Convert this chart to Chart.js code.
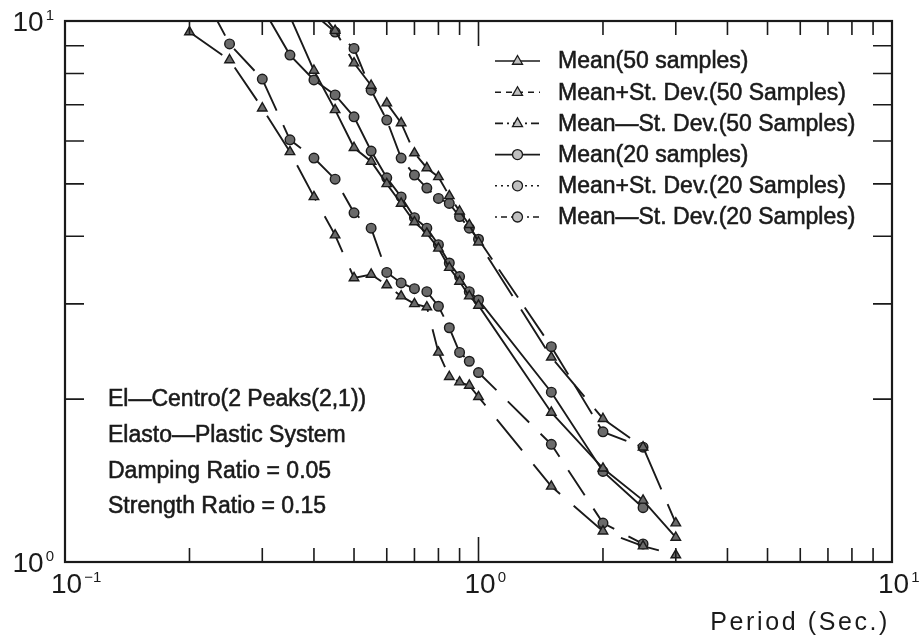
<!DOCTYPE html>
<html>
<head>
<meta charset="utf-8">
<script src="https://cdn.jsdelivr.net/npm/chart.js@4.4.1/dist/chart.umd.min.js"></script>
<style>
  html, body { margin: 0; padding: 0; background: #ffffff; }
  #wrap { width: 919px; height: 638px; }
  canvas { display: block; }
</style>
</head>
<body>
<div id="wrap"><canvas id="c" width="919" height="638"></canvas></div>
<script>
// ---- data ----
const periods    = [0.2, 0.25, 0.3, 0.35, 0.4, 0.45, 0.5, 0.55, 0.6, 0.65, 0.7, 0.75, 0.8, 0.85, 0.9, 0.95, 1.0, 1.5, 2.0, 2.5, 3.0];
const mean50     = [null, null, null, 10.2, 8.1, 6.85, 5.83, 5.5, 5.0, 4.6, 4.25, 4.05, 3.8, 3.5, 3.3, 3.1, 2.98, 1.89, 1.49, 1.3, 1.11];
const plusSD50   = [null, null, null, null, 10.8, 9.6, 8.36, 7.6, 7.05, 6.48, 5.7, 5.35, 5.15, 4.75, 4.45, 4.2, 3.9, 2.39, 1.84, 1.63, 1.18];
const minusSD50  = [9.54, 8.47, 6.9, 5.73, 4.73, 4.02, 3.35, 3.4, 3.25, 3.1, 3.0, 2.96, 2.44, 2.2, 2.15, 2.12, 2.02, 1.38, 1.14, 1.07, 1.03];
const mean20     = [null, null, 10.6, 8.65, 7.78, 7.3, 6.65, 5.75, 5.13, 4.73, 4.33, 4.14, 3.86, 3.57, 3.37, 3.16, 3.05, 2.06, 1.47, 1.26, null];
const plusSD20   = [null, null, null, null, 10.3, 9.54, 8.9, 7.45, 6.56, 5.58, 5.19, 4.91, 4.7, 4.6, 4.35, 4.14, 3.95, 2.5, 1.74, 1.63, null];
const minusSD20  = [12.5, 9.07, 7.81, 6.03, 5.58, 5.1, 4.42, 4.14, 3.43, 3.28, 3.2, 3.16, 2.97, 2.71, 2.44, 2.35, 2.24, 1.65, 1.18, 1.08, null];

const seriesNames = [
  'Mean(50 samples)',
  'Mean+St. Dev.(50 Samples)',
  'Mean\u2014St. Dev.(50 Samples)',
  'Mean(20 samples)',
  'Mean+St. Dev.(20 Samples)',
  'Mean\u2014St. Dev.(20 Samples)'
];
const xTickValues = [0.1, 1, 10];
const xTickBase   = ['10', '10', '10'];
const xTickExp    = ['\u22121', '0', '1'];
const yTickValues = [1, 10];
const yTickBase   = ['10', '10'];
const yTickExp    = ['0', '1'];
const xMinorTicks = [0.2, 0.3, 0.4, 0.5, 0.6, 0.7, 0.8, 0.9, 2, 3, 4, 5, 6, 7, 8, 9];
const xMajorTicks = [1];
const yMinorTicks = [2, 3, 4, 5, 6, 7, 8, 9];
const xTitle = 'Period (Sec.)';
const noteLines = [
  'El\u2014Centro(2 Peaks(2,1))',
  'Elasto\u2014Plastic System',
  'Damping Ratio = 0.05',
  'Strength Ratio = 0.15'
];

// ---- styles ----
const FONT = '"Liberation Sans", Arial, sans-serif';
const INK = '#1a1a1a';
const FILL = '#6a6a6a';
const seriesData  = [mean50, plusSD50, minusSD50, mean20, plusSD20, minusSD20];
const seriesShape = ['triangle', 'triangle', 'triangle', 'circle', 'circle', 'circle'];
const plotDash    = [[], [46, 16], [40, 18], [], [34, 12], [30, 16]];
const legendDash  = [[], [6, 5], [8, 4, 2, 4], [], [2, 4], [2, 4, 6, 4]];

const datasets = seriesData.map((arr, k) => ({
  label: seriesNames[k],
  data: periods.map((p, i) => ({ x: p, y: arr[i] })),
  borderColor: INK,
  borderWidth: 1.9,
  borderDash: plotDash[k],
  backgroundColor: FILL,
  pointStyle: seriesShape[k],
  pointRadius: seriesShape[k] === 'triangle' ? 5.5 : 4.8,
  pointBorderColor: INK,
  pointBorderWidth: 1.4,
  pointBackgroundColor: FILL,
  fill: false,
  tension: 0,
  spanGaps: false
}));

function drawMarker(ctx, shape, x, y, r) {
  ctx.beginPath();
  if (shape === 'triangle') {
    ctx.moveTo(x, y - r * 1.1);
    ctx.lineTo(x - r, y + r * 0.65);
    ctx.lineTo(x + r, y + r * 0.65);
    ctx.closePath();
  } else {
    ctx.arc(x, y, r, 0, Math.PI * 2);
  }
  ctx.fill();
  ctx.stroke();
}

function heavyText(ctx, t, x, y) {
  ctx.fillText(t, x, y);
  ctx.lineWidth = 0.55;
  ctx.strokeText(t, x, y);
}

const decorPlugin = {
  id: 'decor',
  afterDraw(chart) {
    const ctx = chart.ctx;
    const a = chart.chartArea;
    const xs = chart.scales.x, ys = chart.scales.y;
    ctx.save();
    ctx.strokeStyle = INK;
    ctx.fillStyle = INK;

    // frame
    ctx.lineWidth = 2.2;
    ctx.setLineDash([]);
    ctx.strokeRect(a.left, a.top, a.right - a.left, a.bottom - a.top);

    // inward ticks
    ctx.lineWidth = 1.6;
    ctx.beginPath();
    xMinorTicks.forEach(v => {
      const px = xs.getPixelForValue(v);
      ctx.moveTo(px, a.bottom); ctx.lineTo(px, a.bottom - 14);
      ctx.moveTo(px, a.top);    ctx.lineTo(px, a.top + 14);
    });
    xMajorTicks.forEach(v => {
      const px = xs.getPixelForValue(v);
      ctx.moveTo(px, a.bottom); ctx.lineTo(px, a.bottom - 25);
      ctx.moveTo(px, a.top);    ctx.lineTo(px, a.top + 25);
    });
    yMinorTicks.forEach(v => {
      const py = ys.getPixelForValue(v);
      ctx.moveTo(a.left, py);  ctx.lineTo(a.left + 19, py);
      ctx.moveTo(a.right, py); ctx.lineTo(a.right - 19, py);
    });
    ctx.stroke();

    // tick labels
    ctx.textBaseline = 'alphabetic';
    ctx.textAlign = 'left';
    xTickValues.forEach((v, i) => {
      const px = xs.getPixelForValue(v);
      ctx.font = '28px ' + FONT;
      const bx = px - 14;
      ctx.fillText(xTickBase[i], bx, a.bottom + 31);
      const w = ctx.measureText(xTickBase[i]).width;
      ctx.font = '15px ' + FONT;
      ctx.fillText(xTickExp[i], bx + w + 2, a.bottom + 20);
    });
    yTickValues.forEach((v, i) => {
      const py = ys.getPixelForValue(v);
      ctx.font = '15px ' + FONT;
      const ew = ctx.measureText(yTickExp[i]).width;
      ctx.font = '28px ' + FONT;
      const bw = ctx.measureText(yTickBase[i]).width;
      const right = a.left - 11;
      ctx.fillText(yTickBase[i], right - ew - 2 - bw, py + 10);
      ctx.font = '15px ' + FONT;
      ctx.fillText(yTickExp[i], right - ew, py - 1);
    });

    // x axis title
    ctx.font = '25px ' + FONT;
    ctx.textAlign = 'right';
    if ('letterSpacing' in ctx) ctx.letterSpacing = '2.6px';
    ctx.fillText(xTitle, a.right - 2, a.bottom + 68);
    if ('letterSpacing' in ctx) ctx.letterSpacing = '0px';

    // legend
    ctx.textAlign = 'left';
    ctx.textBaseline = 'middle';
    seriesNames.forEach((name, k) => {
      const y = a.top + 40 + k * 31.2;
      const x0 = a.left + 430, x1 = a.left + 475, xm = (x0 + x1) / 2;
      ctx.lineWidth = 1.6;
      ctx.setLineDash(legendDash[k]);
      ctx.beginPath();
      ctx.moveTo(x0, y); ctx.lineTo(x1, y);
      ctx.stroke();
      ctx.setLineDash([]);
      ctx.fillStyle = '#c0c0c0';
      ctx.lineWidth = 1.3;
      drawMarker(ctx, seriesShape[k], xm, y, 5);
      ctx.fillStyle = INK;
      ctx.font = '23px ' + FONT;
      heavyText(ctx, name, a.left + 493, y + 1);
    });

    // notes
    ctx.font = '23px ' + FONT;
    noteLines.forEach((t, i) => {
      heavyText(ctx, t, a.left + 43, a.top + 379 + i * 35.7);
    });
    ctx.restore();
  }
};

new Chart(document.getElementById('c'), {
  type: 'line',
  data: { datasets },
  options: {
    responsive: false,
    animation: false,
    devicePixelRatio: 1,
    layout: { padding: { left: 65, right: 27, top: 21, bottom: 76 } },
    plugins: { legend: { display: false }, tooltip: { enabled: false } },
    scales: {
      x: { type: 'logarithmic', min: 0.1, max: 10, display: false },
      y: { type: 'logarithmic', min: 1, max: 10, display: false }
    }
  },
  plugins: [decorPlugin]
});
</script>
</body>
</html>
